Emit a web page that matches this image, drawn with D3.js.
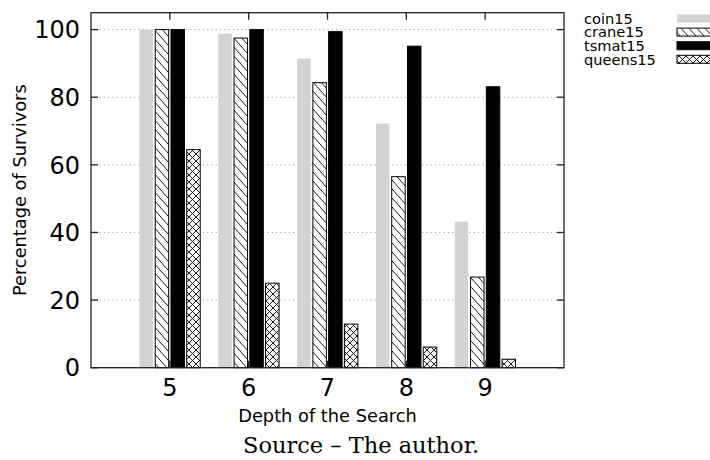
<!DOCTYPE html>
<html>
<head>
<meta charset="utf-8">
<script src="https://cdn.jsdelivr.net/npm/d3@7"></script>
<style>
  html, body { margin: 0; padding: 0; background: #fff; }
  svg { display: block; }
</style>
</head>
<body>
<svg id="chart" width="710" height="460"></svg>
<script>
// Survivors per search depth, one array per benchmark
const depths = [5, 6, 7, 8, 9];
const seriesNames = ["coin15", "crane15", "tsmat15", "queens15"];
const coin15   = [100, 98.8, 91.4, 72.2, 43.2];
const crane15  = [100, 97.5, 84.3, 56.5, 26.8];
const tsmat15  = [100, 100, 99.4, 95.1, 83.1];
const queens15 = [64.5, 25.0, 12.9, 6.1, 2.5];
const yTicks = [0, 20, 40, 60, 80, 100];

const seriesValues = [coin15, crane15, tsmat15, queens15];

const svg = d3.select("#chart");
const plotLeft = 91, plotRight = 564, plotTop = 12.7, plotBottom = 367.7;

const x = d3.scaleLinear().domain([4, 10]).range([plotLeft, plotRight]);
const y = d3.scaleLinear().domain([0, 105]).range([plotBottom, plotTop]);

// fill patterns
const defs = svg.append("defs");
const diag = defs.append("pattern")
  .attr("id", "diag").attr("patternUnits", "userSpaceOnUse")
  .attr("width", 8).attr("height", 9);
diag.append("rect").attr("width", 8).attr("height", 9).attr("fill", "#fff");
diag.append("path").attr("d", "M-8,-9 L16,18 M0,-9 L24,18 M-16,-9 L8,18")
  .attr("stroke", "#000").attr("stroke-width", 0.9);

const cross = defs.append("pattern")
  .attr("id", "cross").attr("patternUnits", "userSpaceOnUse")
  .attr("width", 7).attr("height", 7);
cross.append("rect").attr("width", 7).attr("height", 7).attr("fill", "#fff");
cross.append("path").attr("d", "M0,0 L7,7 M0,7 L7,0")
  .attr("stroke", "#000").attr("stroke-width", 0.9);

const styles = [
  { fill: "#d3d3d3", stroke: "none" },
  { fill: "url(#diag)", stroke: "#000" },
  { fill: "#000", stroke: "#000" },
  { fill: "url(#cross)", stroke: "#000" }
];

// grid
svg.append("g").selectAll("line")
  .data(yTicks.filter(d => d > 0))
  .join("line")
  .attr("x1", plotLeft).attr("x2", plotRight)
  .attr("y1", d => y(d)).attr("y2", d => y(d))
  .attr("stroke", "#a0a0a0").attr("stroke-width", 1)
  .attr("stroke-dasharray", "1.2,3.1");

// bars
const stride = 0.2, barW = 0.171;
seriesValues.forEach((vals, si) => {
  svg.append("g").selectAll("rect")
    .data(vals)
    .join("rect")
    .attr("x", (d, i) => x(depths[i] + (si - 1.5) * stride - barW / 2))
    .attr("width", x(barW) - x(0))
    .attr("y", d => y(d))
    .attr("height", d => y(0) - y(d))
    .attr("fill", styles[si].fill)
    .attr("stroke", styles[si].stroke)
    .attr("stroke-width", 1);
});

// frame and inward ticks
const axisColor = "#222";
const tickLen = 7;
const ax = svg.append("g").attr("stroke", axisColor).attr("stroke-width", 1.3).attr("fill", "none");
ax.append("rect").attr("x", plotLeft).attr("y", plotTop)
  .attr("width", plotRight - plotLeft).attr("height", plotBottom - plotTop);
yTicks.forEach(t => {
  ax.append("line").attr("x1", plotLeft).attr("x2", plotLeft + tickLen).attr("y1", y(t)).attr("y2", y(t));
  ax.append("line").attr("x1", plotRight).attr("x2", plotRight - tickLen).attr("y1", y(t)).attr("y2", y(t));
});
depths.forEach(d => {
  ax.append("line").attr("x1", x(d)).attr("x2", x(d)).attr("y1", plotTop).attr("y2", plotTop + tickLen);
  ax.append("line").attr("x1", x(d)).attr("x2", x(d)).attr("y1", plotBottom).attr("y2", plotBottom - tickLen);
});

// tick labels
const sans = "'DejaVu Sans', sans-serif";
svg.append("g").selectAll("text")
  .data(yTicks).join("text")
  .attr("x", 80).attr("y", d => y(d) + 8.7)
  .attr("text-anchor", "end")
  .attr("font-family", sans).attr("font-size", 24)
  .text(d => d);

svg.append("g").selectAll("text")
  .data(depths).join("text")
  .attr("x", d => x(d)).attr("y", 395.5)
  .attr("text-anchor", "middle")
  .attr("font-family", sans).attr("font-size", 24)
  .text(d => d);

// axis titles
svg.append("text")
  .attr("transform", `translate(25.7, ${(plotTop + plotBottom) / 2}) rotate(-90)`)
  .attr("text-anchor", "middle")
  .attr("font-family", sans).attr("font-size", 17.8)
  .text("Percentage of Survivors");

svg.append("text")
  .attr("x", (plotLeft + plotRight) / 2).attr("y", 422)
  .attr("text-anchor", "middle")
  .attr("font-family", sans).attr("font-size", 17.8)
  .text("Depth of the Search");

// legend
const legend = svg.append("g");
seriesNames.forEach((name, i) => {
  const cy = 18.5 + i * 13.6;
  legend.append("text")
    .attr("x", 584).attr("y", cy + 5.2)
    .attr("font-family", sans).attr("font-size", 14.6)
    .text(name);
  legend.append("rect")
    .attr("x", 677).attr("y", cy - 4).attr("width", 40).attr("height", 8)
    .attr("fill", styles[i].fill)
    .attr("stroke", styles[i].stroke).attr("stroke-width", 1);
});

// caption
svg.append("text")
  .attr("x", 243).attr("y", 453)
  .attr("font-family", "'DejaVu Serif', serif").attr("font-size", 22.5)
  .text("Source – The author.");
</script>
</body>
</html>
